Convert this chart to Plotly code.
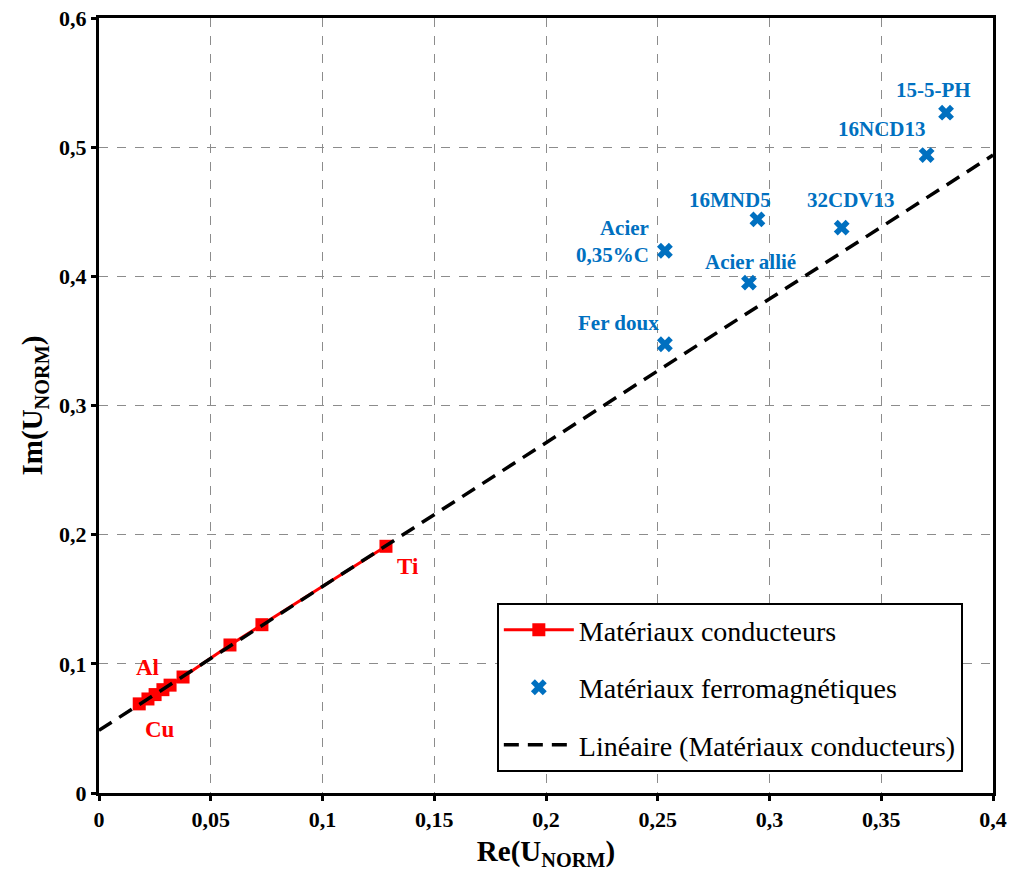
import numpy as np
import plotly.graph_objects as go

# Conductive materials (red)
cond_re = [0.0180, 0.0219, 0.0251, 0.0286, 0.0318, 0.0376, 0.0586, 0.0729, 0.1284]
cond_im = [0.0690, 0.0728, 0.0762, 0.0800, 0.0835, 0.0898, 0.1146, 0.1303, 0.1910]
cond_labels = ["Cu", "", "Al", "", "", "", "", "", "Ti"]

# Ferromagnetic materials (blue)
ferro_names = ["15-5-PH", "16NCD13", "16MND5", "32CDV13", "Acier<br>0,35%C", "Acier allié", "Fer doux"]
ferro_re = [0.3790, 0.3703, 0.2946, 0.3323, 0.2532, 0.2908, 0.2532]
ferro_im = [0.5267, 0.4939, 0.4441, 0.4377, 0.4198, 0.3951, 0.3474]

x_ticks = [0, 0.05, 0.1, 0.15, 0.2, 0.25, 0.3, 0.35, 0.4]
x_tick_text = ["0", "0,05", "0,1", "0,15", "0,2", "0,25", "0,3", "0,35", "0,4"]
y_ticks = [0, 0.1, 0.2, 0.3, 0.4, 0.5, 0.6]
y_tick_text = ["0", "0,1", "0,2", "0,3", "0,4", "0,5", "0,6"]

RED = "#FF0000"
BLUE = "#0070C0"
SERIF = "Liberation Serif, Times New Roman, serif"

# linear trend fitted on conductive materials, extended over the axis range
slope, icpt = np.polyfit(cond_re, cond_im, 1)
trend_x = [x_ticks[0], x_ticks[-1]]
trend_y = [slope * v + icpt for v in trend_x]

fig = go.Figure()
fig.add_trace(go.Scatter(
    x=cond_re, y=cond_im, mode="lines+markers", name="Matériaux conducteurs",
    line=dict(color=RED, width=3),
    marker=dict(symbol="square", size=13, color=RED),
    legendgroup="a",
))
fig.add_trace(go.Scatter(
    x=ferro_re, y=ferro_im, mode="markers", name="Matériaux ferromagnétiques",
    marker=dict(symbol="x", size=14, color=BLUE, line=dict(width=0)),
    legendgroup="b",
))
fig.add_trace(go.Scatter(
    x=trend_x, y=trend_y, mode="lines", name="Linéaire (Matériaux conducteurs)",
    line=dict(color="black", width=3.5, dash="15px,9px"),
    legendgroup="c",
))

# labels for ferromagnetic points (pixel offsets)
ferro_shift = [(-13, 23, "center"), (-45, 26, "center"), (-27, 19, "center"),
               (9, 28, "center"), (-14, 9, "right"), (2, 21, "center"), (-46, 21, "center")]
for name, xv, yv, (dx, dy, anc) in zip(ferro_names, ferro_re, ferro_im, ferro_shift):
    fig.add_annotation(x=xv, y=yv, text=name, showarrow=False, xshift=dx, yshift=dy,
                       xanchor=anc, align="right",
                       font=dict(family=SERIF, size=21, color=BLUE, weight="bold"))

cond_shift = {"Cu": (21, -26), "Al": (-8, 27), "Ti": (22, -20)}
for name, xv, yv in zip(cond_labels, cond_re, cond_im):
    if name:
        dx, dy = cond_shift[name]
        fig.add_annotation(x=xv, y=yv, text=name, showarrow=False, xshift=dx, yshift=dy,
                           font=dict(family=SERIF, size=23, color=RED, weight="bold"))

axis_common = dict(
    showgrid=True, gridcolor="#8C8C8C", griddash="dash", gridwidth=1,
    showline=True, linecolor="black", linewidth=3, mirror=True,
    ticks="outside", ticklen=5, tickwidth=3, tickcolor="black",
    zeroline=False, ticklabeloverflow="allow",
    tickfont=dict(family=SERIF, size=22, color="black", weight="bold"),
)

fig.update_xaxes(range=[0, 0.4], tickvals=x_ticks, ticktext=x_tick_text,
                 title=dict(text="Re(U<sub>NORM</sub>)", standoff=10,
                            font=dict(family=SERIF, size=29, color="black", weight="bold")),
                 **axis_common)
fig.update_yaxes(range=[0, 0.6], tickvals=y_ticks, ticktext=y_tick_text,
                 title=dict(text="Im(U<sub>NORM</sub>)", standoff=8,
                            font=dict(family=SERIF, size=29, color="black", weight="bold")),
                 **axis_common)

fig.update_layout(
    width=1011, height=880,
    margin=dict(l=99, r=18, t=18, b=87, autoexpand=False),
    plot_bgcolor="white", paper_bgcolor="white",
    legend=dict(x=0.445, y=0.245, xanchor="left", yanchor="top",
                bgcolor="white", bordercolor="black", borderwidth=2,
                font=dict(family=SERIF, size=28, color="black"),
                tracegroupgap=18, itemwidth=70),
    showlegend=True,
)

fig.write_html("out.html", config={"displayModeBar": False},
               post_script="document.body.style.margin='0';")
